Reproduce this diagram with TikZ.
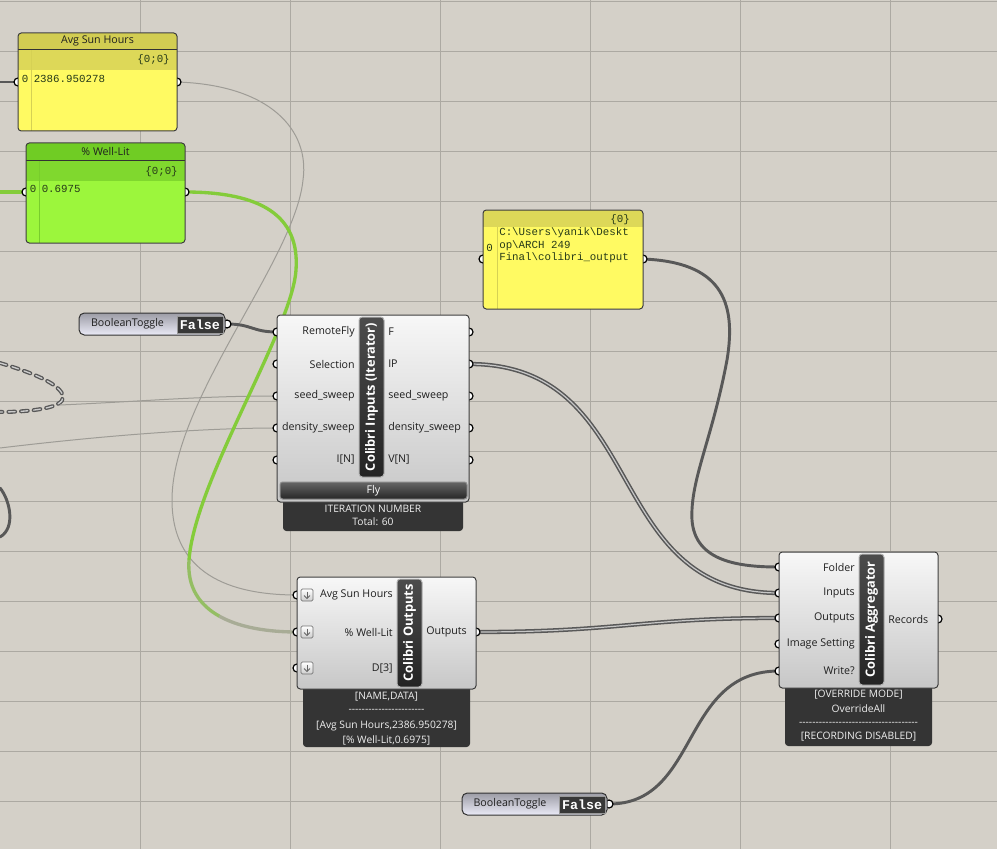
\documentclass[tikz,border=0pt]{standalone}
\usepackage{fontspec}
\setmainfont{Open Sans}
\newfontfamily\ghmono{Liberation Mono}
\usetikzlibrary{calc}
\definecolor{canvas}{RGB}{212,208,200}
\definecolor{gridline}{RGB}{172,169,162}
\definecolor{wiredark}{RGB}{88,88,88}
\definecolor{wirefaint}{RGB}{158,156,150}
\definecolor{wiregreen}{RGB}{132,204,58}
\definecolor{wirefade}{RGB}{168,172,150}
\definecolor{panelhead}{RGB}{210,205,82}
\definecolor{panelband}{RGB}{221,216,88}
\definecolor{panelbody}{RGB}{255,250,98}
\definecolor{panelrule}{RGB}{214,209,84}
\definecolor{greenhead}{RGB}{112,204,36}
\definecolor{greenband}{RGB}{128,216,46}
\definecolor{greenbody}{RGB}{156,246,60}
\definecolor{greenrule}{RGB}{120,205,44}
\definecolor{paneltext}{RGB}{38,58,24}
\definecolor{labelbg}{RGB}{52,52,52}
\definecolor{boxedge}{RGB}{62,62,62}
\newcommand{\ghtext}{\fontsize{8}{9.6}\selectfont}
\newcommand{\ghlabel}{\fontsize{7.7}{9.2}\selectfont}
\newcommand{\ghtitle}{\fontsize{9.6}{11}\selectfont\bfseries}
\newcommand{\ghcode}{\ghmono\fontsize{8.1}{9.4}\selectfont}
\newcommand{\ghvalue}{\ghmono\fontsize{10}{11}\selectfont\bfseries}
\newcommand{\ghrule}[1]{\foreach \k in {1,...,#1}{-\kern0pt}}
\tikzset{
  wire/.style={draw=wiredark, line width=2.2pt, line cap=round},
  wire faint/.style={draw=wirefaint, line width=0.75pt},
  wire green/.style={draw=wiregreen, line width=2.5pt, line cap=round},
  wire list/.style={draw=wiredark, line width=3.2pt,
    postaction={draw=white!78!black, line width=0.9pt}},
  wire dash/.style={draw=wiredark, line width=3pt, line cap=round,
    dash pattern=on 5pt off 4.5pt,
    postaction={draw=white!80!black, line width=1pt, dash pattern=on 5pt off 4.5pt}},
  port/.style={draw=black, fill=white, line width=0.9pt},
  panel frame/.style={draw=boxedge, line width=0.75pt, rounded corners=2.5pt},
  comp box/.style={draw=boxedge, line width=0.75pt, rounded corners=2.5pt,
    top color=white!97!black, bottom color=white!78!black},
  title bar/.style={draw=white!70!black, line width=0.75pt, rounded corners=2.5pt,
    top color=black!70, bottom color=black!86},
  fly button/.style={draw=white!55!black, line width=0.75pt, rounded corners=2pt,
    top color=black!60, bottom color=black!85},
  label box/.style={fill=labelbg, rounded corners=2.5pt},
  toggle body/.style={draw=black!80, line width=0.75pt, rounded corners=4pt,
    top color=white!88!blue!30!gray, bottom color=black!38!blue!8!white},
  toggle value/.style={draw=white!60!black, line width=0.75pt, fill=black!78},
  icon box/.style={draw=black!55, line width=0.6pt, rounded corners=1pt,
    top color=white, bottom color=white!80!black},
  txt/.style={inner sep=0pt, font=\ghtext, text=black!88},
  lbl/.style={inner sep=0pt, font=\ghlabel, text=white!94!black},
  code/.style={inner sep=0pt, font=\ghcode, text=paneltext, anchor=west},
  vtitle/.style={inner sep=0pt, font=\ghtitle, text=white, rotate=90}
}
\begin{document}
\begin{tikzpicture}[x=0.75pt, y=-0.75pt]
  % canvas and grid
  \fill[canvas] (0,0) rectangle (997,849);
  \useasboundingbox (0,0) rectangle (997,849);
  \foreach \gx in {140,290,440,590,740,890} {
    \draw[gridline, line width=0.6pt] (\gx,0) -- (\gx,849);
  }
  \foreach \gy in {1.5,51.5,101.5,151.5,201.5,251.5,301.5,351.5,401.5,451.5,501.5,551.5,601.5,651.5,701.5,751.5,801.5} {
    \draw[gridline, line width=0.6pt] (0,\gy) -- (997,\gy);
  }

  % port positions
  \coordinate (avg-lead) at (0,82);   \coordinate (avg-in) at (18,82);   \coordinate (avg-out) at (177,82);
  \coordinate (well-lead) at (0,192); \coordinate (well-in) at (26,192); \coordinate (well-out) at (185,192);
  \coordinate (path-in) at (483,259); \coordinate (path-out) at (643,259);
  \coordinate (tog1-out) at (227,324);
  \coordinate (tog2-out) at (609,804);
  \foreach \i/\py in {1/332,2/364,3/396,4/428,5/460} {
    \coordinate (ci-in\i) at (277,\py);
    \coordinate (ci-out\i) at (469,\py);
  }
  \foreach \i/\py in {1/595,2/632,3/668} {
    \coordinate (co-in\i) at (297,\py);
  }
  \coordinate (co-out) at (476,632);
  \foreach \i/\py in {1/567,2/593,3/618,4/644,5/671} {
    \coordinate (ag-in\i) at (779,\py);
  }
  \coordinate (ag-out) at (938,619);
  \coordinate (loop-tip) at (60,405);
  \coordinate (sweep-lead) at (0,448);

  % wires
  \draw[wire] (avg-lead) -- (avg-in);
  \draw[wire green] (well-lead) -- (well-in);
  \draw[wire dash] (0,363) .. controls (30,372) and (62,384) .. (63,397) .. controls (64,408) and (30,412) .. (0,412);
  \draw[wire] (0,488) .. controls (10,500) and (16,528) .. (0,537);
  \draw[wire faint] (loop-tip) .. controls (150,401) and (200,396) .. (ci-in3);
  \draw[wire faint] (sweep-lead) .. controls (100,436) and (200,428) .. (ci-in4);
  \draw[wire faint] (avg-out) .. controls (270,85) and (310,130) .. (303,180)
    .. controls (295,260) and (172,400) .. (172,500)
    .. controls (172,580) and (240,595) .. (co-in1);
  \draw[wire green, line cap=butt] (well-out) .. controls (260,192) and (300,215) .. (296,270)
    .. controls (292,330) and (195,480) .. (189,560);
  \draw[draw=wiregreen!55!wirefade, line width=2.5pt] (189,560) .. controls (187,587.5) and (199.75,605.5) .. (220.1,616.6);
  \draw[draw=wirefade, line width=2.5pt, line cap=round] (220.1,616.6) .. controls (240.5,627.75) and (268.5,632) .. (co-in2);
  \draw[wire] (tog1-out) .. controls (252,324) and (252,332) .. (ci-in1);
  \draw[wire] (path-out) .. controls (720,262) and (737,300) .. (727,360)
    .. controls (712,440) and (690,480) .. (692,520)
    .. controls (695,562) and (740,567) .. (ag-in1);
  \draw[wire list] (ci-out2) .. controls (650,364) and (600,593) .. (ag-in2);
  \draw[wire list] (co-out) .. controls (620,632) and (640,618) .. (ag-in3);
  \draw[wire] (tog2-out) .. controls (700,804) and (680,671) .. (ag-in5);

  % ports
  \foreach \p in {avg-in,avg-out,well-in,well-out,path-in,path-out,tog1-out,tog2-out,
      ci-in1,ci-in2,ci-in3,ci-in4,ci-in5,ci-out1,ci-out2,ci-out3,ci-out4,ci-out5,
      co-in1,co-in2,co-in3,co-out,ag-in1,ag-in2,ag-in3,ag-in4,ag-in5,ag-out} {
    \draw[port] (\p) circle[radius=4];
  }

  % panel: Avg Sun Hours
  \begin{scope}
    \clip[rounded corners=2.5pt] (18,33) rectangle (177,131);
    \fill[panelbody] (18,33) rectangle (177,131);
    \fill[panelhead] (18,33) rectangle (177,50);
    \fill[panelband] (18,50) rectangle (177,70);
    \draw[panelrule, line width=0.75pt] (31.5,50) -- (31.5,131);
  \end{scope}
  \draw[black!80, line width=0.75pt] (18,50) -- (177,50);
  \draw[panel frame] (18,33) rectangle (177,131);
  \node[txt] (avg-title) at (97.5,41) {Avg Sun Hours};
  \node[code, anchor=east] (avg-path) at (170,60) {\{0;0\}};
  \node[code] (avg-idx) at (21.5,78.5) {0};
  \node[code] (avg-val) at (33.5,78.5) {2386.950278};

  % panel: % Well-Lit
  \begin{scope}
    \clip[rounded corners=2.5pt] (26,143) rectangle (185,243);
    \fill[greenbody] (26,143) rectangle (185,243);
    \fill[greenhead] (26,143) rectangle (185,161);
    \fill[greenband] (26,161) rectangle (185,181);
    \draw[greenrule, line width=0.75pt] (39.5,161) -- (39.5,243);
  \end{scope}
  \draw[black!80, line width=0.75pt] (26,161) -- (185,161);
  \draw[panel frame] (26,143) rectangle (185,243);
  \node[txt] (well-title) at (105.5,151.5) {\% Well-Lit};
  \node[code, anchor=east] (well-path) at (178,172) {\{0;0\}};
  \node[code] (well-idx) at (29.5,188.5) {0};
  \node[code] (well-val) at (41.5,188.5) {0.6975};

  % panel: folder path
  \begin{scope}
    \clip[rounded corners=2.5pt] (483,210) rectangle (643,309);
    \fill[panelbody] (483,210) rectangle (643,309);
    \fill[panelband] (483,210) rectangle (643,227);
    \draw[panelrule, line width=0.75pt] (497,227) -- (497,309);
  \end{scope}
  \draw[panel frame] (483,210) rectangle (643,309);
  \node[code, anchor=east] (path-tree) at (630,219.5) {\{0\}};
  \node[code] (path-idx) at (486,248) {0};
  \node[code] (path-l1) at (499,233) {C:\textbackslash Users\textbackslash yanik\textbackslash Deskt};
  \node[code] (path-l2) at (499,245.5) {op\textbackslash ARCH 249};
  \node[code] (path-l3) at (499,258) {Final\textbackslash colibri\_output};

  % boolean toggles
  \draw[toggle body] (79,313) rectangle (225,335);
  \draw[toggle value] (177,316) rectangle (223,333);
  \node[txt] (tog1-name) at (127.5,323.5) {BooleanToggle};
  \node[inner sep=0pt, font=\ghvalue, text=white] (tog1-val) at (200,324.5) {False};
  \draw[toggle body] (462,793) rectangle (607,815);
  \draw[toggle value] (559,796) rectangle (605,813);
  \node[txt] (tog2-name) at (510,803.5) {BooleanToggle};
  \node[inner sep=0pt, font=\ghvalue, text=white] (tog2-val) at (582,804.5) {False};

  % Colibri Inputs (Iterator)
  \fill[label box] (283,495) rectangle (463,531);
  \draw[comp box] (277,315) rectangle (469,502);
  \draw[title bar] (359,317) rectangle (384,477);
  \node[vtitle] (ci-title) at (371.5,397) {Colibri Inputs (Iterator)};
  \draw[fly button] (280,482) rectangle (467,499);
  \node[inner sep=0pt, font=\ghtext, text=white] (ci-fly) at (373.5,490.5) {Fly};
  \foreach \i/\inname/\outname in {1/RemoteFly/F, 2/Selection/IP, 3/seed\_sweep/seed\_sweep,
      4/density\_sweep/density\_sweep, 5/{I[N]}/{V[N]}} {
    \node[txt, anchor=east] (ci-inlbl\i) at ($(ci-in\i)+(78,0)$) {\inname};
    \node[txt, anchor=west] (ci-outlbl\i) at ($(ci-out\i)+(-81,0)$) {\outname};
  }
  \node[lbl] (ci-info1) at (373,508.5) {ITERATION NUMBER};
  \node[lbl] (ci-info2) at (373,522) {Total: 60};

  % Colibri Outputs
  \fill[label box] (303,684) rectangle (470,747);
  \draw[comp box] (297,577) rectangle (476,689);
  \draw[title bar] (397,579) rectangle (422,687);
  \node[vtitle] (co-title) at (409.5,633) {Colibri Outputs};
  \foreach \i/\inname in {1/Avg Sun Hours, 2/\% Well-Lit, 3/{D[3]}} {
    \draw[icon box] ($(co-in\i)+(4,-6)$) rectangle ($(co-in\i)+(16,6)$);
    \draw[black!60, line width=0.6pt] ($(co-in\i)+(10,-3.5)$) -- ($(co-in\i)+(10,3)$);
    \draw[black!60, line width=0.6pt] ($(co-in\i)+(7,0.5)$) -- ($(co-in\i)+(10,3.5)$) -- ($(co-in\i)+(13,0.5)$);
    \node[txt, anchor=east] (co-inlbl\i) at ($(co-in\i)+(96,0)$) {\inname};
  }
  \node[txt, anchor=west] (co-outlbl) at (426,632) {Outputs};
  \node[lbl] (co-info1) at (386.5,697) {[NAME,DATA]};
  \node[lbl] (co-info2) at (386.5,711) {\ghrule{23}};
  \node[lbl] (co-info3) at (386.5,726) {[Avg Sun Hours,2386.950278]};
  \node[lbl] (co-info4) at (386.5,740) {[\% Well-Lit,0.6975]};

  % Colibri Aggregator
  \fill[label box] (785,684) rectangle (932,746);
  \draw[comp box] (779,552) rectangle (938,688);
  \draw[title bar] (859,554) rectangle (884,685);
  \node[vtitle] (ag-title) at (871.5,619.5) {Colibri Aggregator};
  \foreach \i/\inname in {1/Folder, 2/Inputs, 3/Outputs, 4/Image Setting, 5/Write?} {
    \node[txt, anchor=east] (ag-inlbl\i) at ($(ag-in\i)+(76,0)$) {\inname};
  }
  \node[txt, anchor=west] (ag-outlbl) at (888,619) {Records};
  \node[lbl] (ag-info1) at (858.5,695) {[OVERRIDE MODE]};
  \node[lbl] (ag-info2) at (858.5,709) {OverrideAll};
  \node[lbl] (ag-info3) at (858.5,723.5) {\ghrule{36}};
  \node[lbl] (ag-info4) at (858.5,737) {[RECORDING DISABLED]};
\end{tikzpicture}
\end{document}
